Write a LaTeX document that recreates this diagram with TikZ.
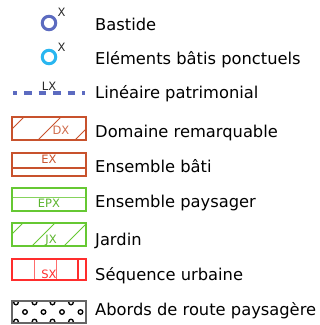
\documentclass[tikz,border=0pt]{standalone}
\usepackage{fontspec}
\setmainfont{DejaVu Sans}
\definecolor{bastide}{RGB}{92,107,192}
\definecolor{cyanb}{RGB}{41,182,240}
\definecolor{orng}{RGB}{200,82,45}
\definecolor{grn}{RGB}{102,200,51}
\definecolor{redd}{RGB}{255,45,45}
\definecolor{lbl}{RGB}{40,40,40}
\tikzset{
  legtext/.style={anchor=base west, inner sep=0, font=\fontsize{16.3bp}{18bp}\selectfont, text=black},
  small/.style={inner sep=0, font=\fontsize{11.5bp}{12bp}\selectfont},
  ring/.style={circle, line width=3bp, minimum size=13.5bp, inner sep=0},
  legbox/.style={line width=1.6bp},
  hatch/.style={line width=1bp},
}
\begin{document}
\begin{tikzpicture}[x=1bp,y=-1bp]
\useasboundingbox (0,0) rectangle (320,325);
% Bastide
\node[ring, draw=bastide] (c1) at (49,23) {};
\node[small, text=lbl] (x1) at (61.5,12) {X};
\node[legtext] (t1) at (95,30) {Bastide};
% Elements
\node[ring, draw=cyanb] (c2) at (49,57) {};
\node[small, text=lbl] (x2) at (61.5,47) {X};
\node[legtext] (t2) at (95,64) {Eléments bâtis ponctuels};
% Lineaire
\coordinate (l1) at (13,93);
\coordinate (l2) at (85,93);
\draw[bastide, line width=3.8bp, dash pattern=on 7.5bp off 7bp, dash phase=3.5bp] (l1) -- (l2);
\node[small, text=lbl] (lx) at (49,86) {LX};
\node[legtext] (t3) at (95,98) {Linéaire patrimonial};
% Domaine
\begin{scope}
\clip (12,117) rectangle (86,140);
\draw[orng, hatch] (1,140) -- ++(24,-24) (38,140) -- ++(24,-24) (75,140) -- ++(24,-24);
\end{scope}
\draw[orng, legbox] (12,117) rectangle (86,140);
\node[small, text=orng!85] (dx) at (61,130.5) {DX};
\node[legtext] (t4) at (95,137) {Domaine remarquable};
% Ensemble bati
\draw[orng, line width=2bp] (12,168) -- (86,168);
\draw[orng, legbox] (12,153) rectangle (86,176);
\node[small, text=orng] (ex) at (49,159.5) {EX};
\node[legtext] (t5) at (95,172) {Ensemble bâti};
% Ensemble paysager
\draw[grn!80, line width=0.8bp] (12,197) -- (86,197);
\draw[grn, legbox] (12,188) rectangle (86,211);
\node[small, text=grn!90!black] (epx) at (49,203.5) {EPX};
\node[legtext] (t6) at (95,207) {Ensemble paysager};
% Jardin
\begin{scope}
\clip (12,223) rectangle (86,246);
\draw[grn, hatch] (0,246) -- ++(24,-24) (32,246) -- ++(24,-24) (64,246) -- ++(24,-24);
\end{scope}
\draw[grn, legbox] (12,223) rectangle (86,246);
\node[small, text=grn!90!black] (jx) at (51,240.5) {JX};
\node[legtext] (t7) at (95,245) {Jardin};
% Sequence urbaine
\draw[redd!70, line width=0.8bp] (34,259) -- (34,280) (56,259) -- (56,280);
\draw[redd, line width=1.4bp] (78,259) -- (78,280);
\draw[redd, legbox] (12,259) rectangle (86,280);
\node[small, text=redd] (sx) at (49,274.5) {SX};
\node[legtext] (t8) at (95,280) {Séquence urbaine};
% Abords
\begin{scope}
\clip (12,301) rectangle (86,323);
\foreach \x in {16,34.5,52.5,71} {
  \draw[black, line width=1.3bp] (\x,302.5) circle (2.3bp);
  \draw[black, line width=1.3bp] (\x,321.5) circle (2.3bp);
}
\foreach \x in {25,43.5,62,80.5} {
  \draw[black, line width=1.3bp] (\x,312) circle (2.3bp);
}
\end{scope}
\draw[black!60, line width=1.2bp] (12,301) rectangle (86,323);
\node[legtext] (t9) at (95,315) {Abords de route paysagère};
\end{tikzpicture}
\end{document}
